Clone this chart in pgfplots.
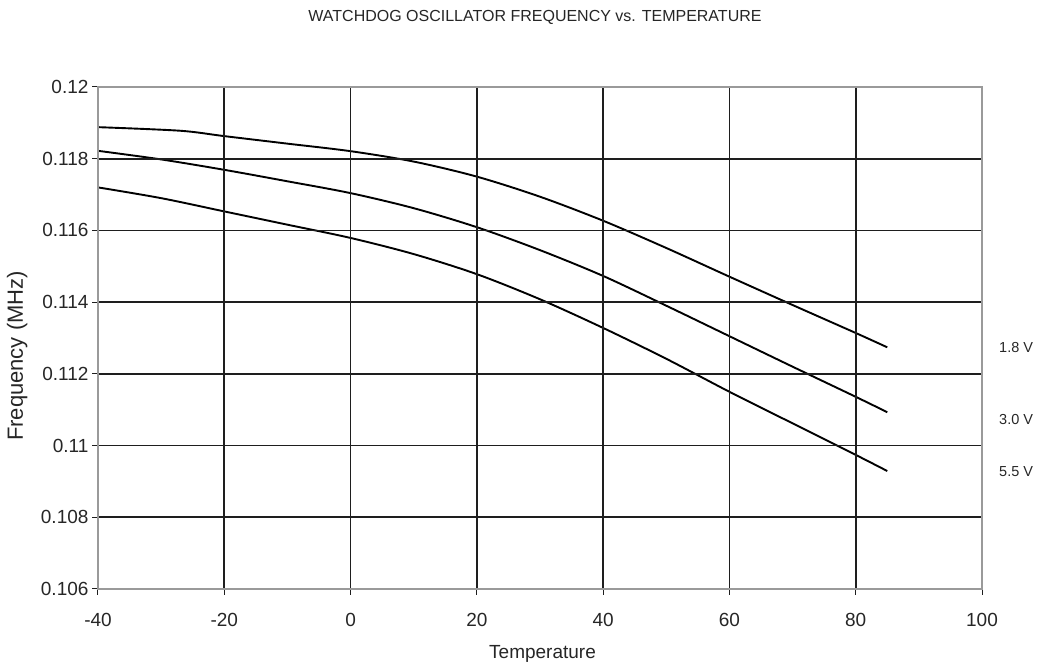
\documentclass[border=0pt]{standalone}
\usepackage{fontspec}
\setmainfont{Liberation Sans}
\usepackage{pgfplots}
\pgfplotsset{compat=1.18}
\definecolor{gridc}{HTML}{1E1E1E}
\definecolor{framec}{HTML}{9A9A9A}
\definecolor{txt}{HTML}{262626}
\begin{document}
\begin{tikzpicture}
\useasboundingbox (-98pt,-74pt) rectangle (941pt,589pt);
\begin{axis}[
  at={(0pt,0pt)}, anchor=south west,
  scale only axis, width=884pt, height=502pt,
  xmin=-40, xmax=100, ymin=0.106, ymax=0.12,
  xtick={-40,-20,0,20,40,60,80,100},
  xticklabels={-40,-20,0,20,40,60,80,100},
  ytick={0.106,0.108,0.110,0.112,0.114,0.116,0.118,0.120},
  yticklabels={0.106,0.108,0.11,0.112,0.114,0.116,0.118,0.12},
  scaled y ticks=false,
  grid=major,
  major grid style={gridc, line width=1.8pt},
  axis line style={framec, line width=1.5pt},
  axis on top,
  tick align=outside,
  major tick length=6pt,
  tick style={gridc, line width=1pt},
  xtick pos=left, ytick pos=left,
  x tick label style={font=\fontsize{19}{22}\selectfont, text=txt, yshift=-15pt},
  y tick label style={font=\fontsize{19}{22}\selectfont, text=txt},
  clip=false,
]
\addplot[black, line width=1.9pt, smooth] coordinates {
  (-40,0.11888) (-27,0.11878) (-20,0.11863) (-10,0.11842) (0,0.11821)
  (10,0.11792) (20,0.11750) (30,0.11694) (40,0.11627) (50,0.11551)
  (60,0.11471) (70,0.11392) (80,0.11314) (85,0.11274)};
\addplot[black, line width=1.9pt, smooth] coordinates {
  (-40,0.11822) (-30,0.11798) (-20,0.11769) (-10,0.11737) (0,0.11704)
  (10,0.11662) (20,0.11609) (30,0.11545) (40,0.11473) (50,0.11390)
  (60,0.11305) (70,0.11220) (80,0.11136) (85,0.11093)};
\addplot[black, line width=1.9pt, smooth] coordinates {
  (-40,0.11720) (-30,0.11690) (-20,0.11653) (-10,0.11616) (0,0.11579)
  (10,0.11534) (20,0.11478) (30,0.11408) (40,0.11328) (50,0.11242)
  (60,0.11150) (70,0.11062) (80,0.10974) (85,0.10929)};
\draw[gridc, line width=1.5pt] (rel axis cs:0,0) -- (rel axis cs:0,1);
\end{axis}
\node[anchor=base, text=txt, font=\fontsize{16}{19}\selectfont] at (437pt,567pt) {WATCHDOG OSCILLATOR FREQUENCY vs. TEMPERATURE};
\node[anchor=base, text=txt, font=\fontsize{19}{22}\selectfont] at (444.5pt,-70pt) {Temperature};
\node[anchor=base, rotate=90, text=txt, font=\fontsize{22}{26}\selectfont] at (-75pt,233pt) {Frequency (MHz)};
\node[anchor=base west, inner sep=0pt, text=txt, font=\fontsize{14.5}{17}\selectfont] at (901pt,236.3pt) {1.8 V};
\node[anchor=base west, inner sep=0pt, text=txt, font=\fontsize{14.5}{17}\selectfont] at (901pt,164pt) {3.0 V};
\node[anchor=base west, inner sep=0pt, text=txt, font=\fontsize{14.5}{17}\selectfont] at (901pt,112.3pt) {5.5 V};
\end{tikzpicture}
\end{document}
